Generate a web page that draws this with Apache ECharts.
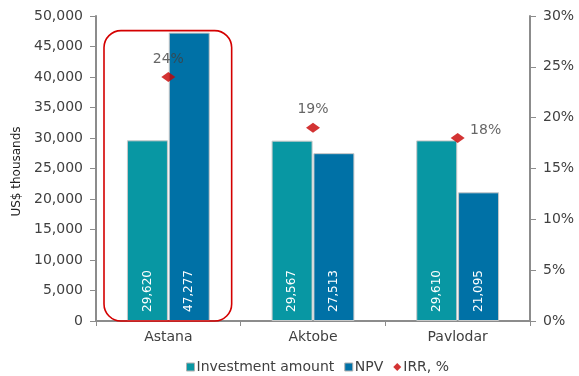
<!DOCTYPE html>
<html>
<head>
<meta charset="utf-8">
<script src="https://cdn.jsdelivr.net/npm/echarts@6/dist/echarts.min.js"></script>
<style>
  html, body { margin: 0; padding: 0; background: #fff; }
  #chart { width: 579px; height: 376px; }
</style>
</head>
<body>
<div id="chart"></div>
<script>
// Project economics by city
const cities = ['Astana', 'Aktobe', 'Pavlodar'];
const investment = [29620, 29567, 29610];   // US$ thousands
const npv = [47277, 27513, 21095];          // US$ thousands
const irr = [24, 19, 18];                   // %
const leftTicks = { min: 0, max: 50000, interval: 5000 };
const rightTicks = { min: 0, max: 30, interval: 5 };

const FONT = 'DejaVu Sans';
const TEXT = '#404040';
const AXIS = '#8c8c8c';
const TEAL = '#0897a3';
const BLUE = '#0071a6';
const RED = '#c80000';

const fmt = v => v.toLocaleString('en-US');

const chart = echarts.init(document.getElementById('chart'), null, { renderer: 'canvas' });

const barLabel = {
  show: true,
  position: 'insideBottom',
  rotate: 90,
  align: 'left',
  verticalAlign: 'middle',
  distance: 9,
  color: '#fff',
  fontFamily: FONT,
  fontSize: 12,
  formatter: p => fmt(p.value)
};

const irrLabelOffsets = [[0, 0], [0, 0], [28, 10]];

chart.setOption({
  animation: false,
  textStyle: { fontFamily: FONT },
  grid: { left: 96, right: 49, top: 16, bottom: 55, containLabel: false, outerBoundsMode: 'none' },
  legend: {
    bottom: -3,
    left: 181,
    itemGap: 10,
    itemWidth: 8,
    itemHeight: 8,
    textStyle: { fontFamily: FONT, fontSize: 14, color: TEXT, padding: [0, 0, 0, -3] },
    data: [
      { name: 'Investment amount', icon: 'rect', itemStyle: { borderColor: '#b0b0b0', borderWidth: 1 } },
      { name: 'NPV', icon: 'rect', itemStyle: { borderColor: '#b0b0b0', borderWidth: 1 } },
      { name: 'IRR, %', icon: 'diamond' }
    ]
  },
  xAxis: {
    type: 'category',
    data: cities,
    axisLine: { lineStyle: { color: AXIS, width: 2 } },
    axisTick: { show: true, length: 5, lineStyle: { color: AXIS, width: 1 } },
    axisLabel: { color: TEXT, fontFamily: FONT, fontSize: 14, margin: 9 }
  },
  yAxis: [
    {
      type: 'value',
      min: leftTicks.min, max: leftTicks.max, interval: leftTicks.interval,
      name: 'US$ thousands',
      nameLocation: 'middle',
      nameGap: 72,
      nameTextStyle: { color: '#222', fontFamily: FONT, fontSize: 12, padding: [0, 6, 0, 0] },
      axisLine: { show: true, lineStyle: { color: AXIS, width: 2 } },
      axisTick: { show: true, length: 6, lineStyle: { color: AXIS, width: 1 } },
      splitLine: { show: false },
      axisLabel: { color: TEXT, fontFamily: FONT, fontSize: 14, margin: 13, formatter: v => fmt(v) }
    },
    {
      type: 'value',
      min: rightTicks.min, max: rightTicks.max, interval: rightTicks.interval,
      position: 'right',
      axisLine: { show: true, lineStyle: { color: AXIS, width: 2 } },
      axisTick: { show: true, length: 6, lineStyle: { color: AXIS, width: 1 } },
      splitLine: { show: false },
      axisLabel: { color: TEXT, fontFamily: FONT, fontSize: 14, margin: 13, formatter: v => v + '%' }
    }
  ],
  series: [
    {
      name: 'Investment amount',
      type: 'bar',
      data: investment,
      barWidth: 41,
      barGap: '2%',
      itemStyle: { color: TEAL, borderColor: '#c8c8c8', borderWidth: 1 },
      label: barLabel,
      z: 3
    },
    {
      name: 'NPV',
      type: 'bar',
      data: npv,
      barWidth: 41,
      barGap: '2%',
      itemStyle: { color: BLUE, borderColor: '#c8c8c8', borderWidth: 1 },
      label: barLabel,
      z: 3
    },
    {
      name: 'IRR, %',
      type: 'scatter',
      yAxisIndex: 1,
      symbol: 'diamond',
      symbolSize: [14, 10],
      itemStyle: { color: RED },
      data: irr.map((v, i) => ({
        value: v,
        label: { offset: irrLabelOffsets[i] }
      })),
      label: {
        show: true,
        position: 'top',
        distance: 6,
        color: TEXT,
        fontFamily: FONT,
        fontSize: 14,
        formatter: p => p.value + '%'
      },
      z: 5
    }
  ]
});

// Rounded red frame highlighting the first city's bars
function drawHighlight() {
  const c0 = chart.convertToPixel({ xAxisIndex: 0 }, cities[0]);
  const c1 = chart.convertToPixel({ xAxisIndex: 0 }, cities[1]);
  const band = c1 - c0;
  const left = c0 - band / 2 + 8;
  const right = c0 + band / 2 - 9;
  const top = chart.convertToPixel({ yAxisIndex: 0 }, npv[0]) - 2;
  const bottom = chart.convertToPixel({ yAxisIndex: 0 }, 0);
  chart.setOption({
    graphic: [{
      type: 'rect',
      shape: { x: left, y: top, width: right - left, height: bottom - top, r: 17 },
      style: { fill: 'none', stroke: '#d40000', lineWidth: 1.6 },
      z: 10
    }]
  });
}
drawHighlight();
</script>
</body>
</html>
